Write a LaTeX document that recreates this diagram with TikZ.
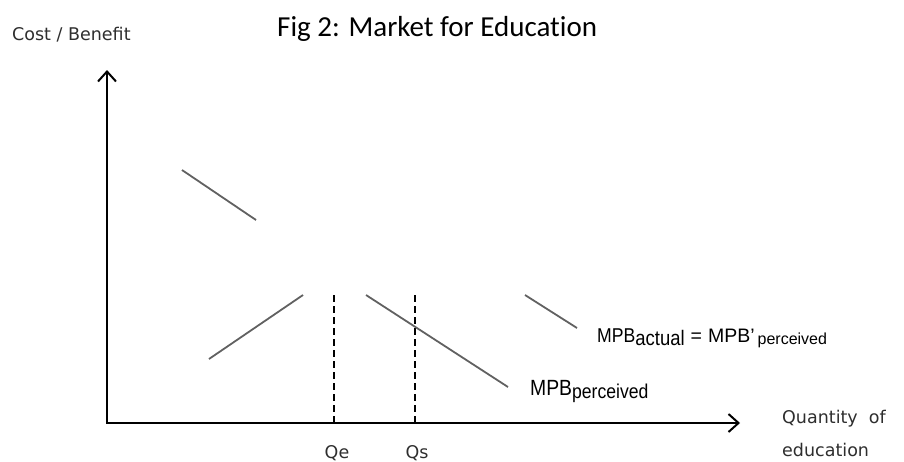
\documentclass[tikz,border=0pt]{standalone}
\usepackage{fontspec}
\usepackage{tikz}
\usetikzlibrary{arrows.meta}
\newfontfamily\titlefont[Ligatures=NoCommon]{Carlito}
\newfontfamily\axisfont{DejaVu Sans}
\newfontfamily\narrowfont[FakeStretch=0.88]{Liberation Sans}
\newfontfamily\plainfont{Liberation Sans}
\newcommand{\lowsub}[3]{\raisebox{-#1pt}{\fontsize{#2}{#2}\selectfont #3}}

\tikzset{
  axis/.style={line width=2pt, {Straight Barb[length=10pt,width=18pt]}-{Straight Barb[length=10pt,width=18pt]}},
  curve/.style={line width=1.8pt, draw=black!62},
  qline/.style={line width=2pt, dash pattern=on 7pt off 4pt},
  axislabel/.style={font=\axisfont\fontsize{17.5}{20}\selectfont, text=black!82, inner sep=0pt, anchor=base west},
  curvelabel/.style={inner sep=0pt, anchor=base west},
}

\begin{document}
\begin{tikzpicture}[x=1pt, y=-1pt]
  \clip (0,0) rectangle (904,461);
  \path  (107,423)   coordinate(O)
          (107,70)   coordinate(Ytop)
          (740,423)   coordinate(Xend)
          (334,295)   coordinate(Qetop)
          (334,423)   coordinate(Qebot)
          (415,295)   coordinate(Qstop)
          (415,423)   coordinate(Qsbot);
  % visible parts of the curves
  \path  (182,170)   coordinate(A1)
          (256,220)   coordinate(A2)
          (525,295)   coordinate(A3)
          (577,328)   coordinate(A4)
          (209,359)   coordinate(S1)
          (303,295)   coordinate(S2)
          (366,295)   coordinate(P1)
          (508,387)   coordinate(P2);
  \path  (277,36)   node[curvelabel, font=\titlefont\fontsize{29}{32}\selectfont](title) {Fig 2: Market for Education}
          (12,40)   node[axislabel](costlab) {Cost / Benefit}
          (782,423)   node[axislabel](qlab) {Quantity\ \ of}
          (782,456)   node[axislabel](edulab) {education}
          (337,458)   node[axislabel, anchor=base](Qe) {Qe}
          (417,458)   node[axislabel, anchor=base](Qs) {Qs}
          (597,342)   node[curvelabel](mpba) {\narrowfont\fontsize{20}{24}\selectfont MPB\lowsub{3}{21}{actual}\plainfont\fontsize{19.5}{24}\selectfont\hspace{6pt}=\hspace{6pt}MPB’\hspace{3pt}\lowsub{2}{16}{perceived}}
          (530,395)   node[curvelabel](mpbp) {\narrowfont\fontsize{22}{24}\selectfont MPB\lowsub{3}{20}{perceived}};
    \draw [axis] (Ytop) -- (O) -- (Xend);
    \draw [qline] (Qetop) -- (Qebot);
    \draw [qline] (Qstop) -- (Qsbot);
    \draw [curve] (A1) -- (A2);
    \draw [curve] (A3) -- (A4);
    \draw [curve] (S1) -- (S2);
    \draw [curve] (P1) -- (P2);

\end{tikzpicture}
\end{document}
